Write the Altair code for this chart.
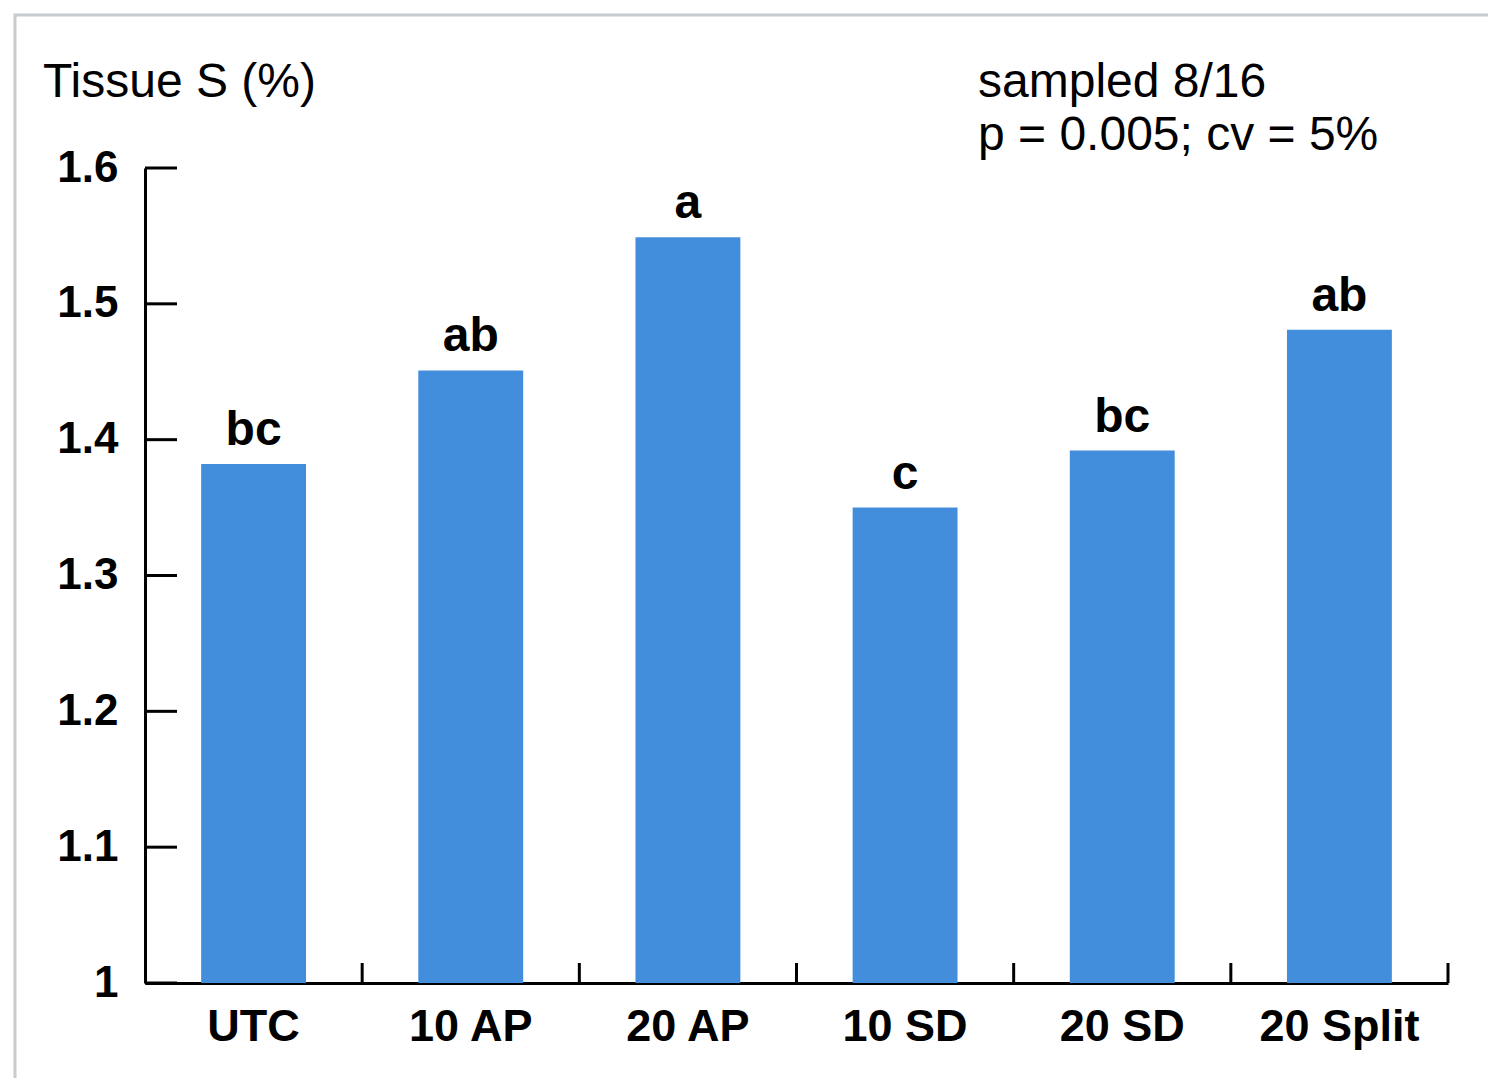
import altair as alt
import pandas as pd

categories = ["UTC", "10 AP", "20 AP", "10 SD", "20 SD", "20 Split"]
values = [1.382, 1.451, 1.549, 1.350, 1.392, 1.481]
letters = ["bc", "ab", "a", "c", "bc", "ab"]
y_ticks = [1.0, 1.1, 1.2, 1.3, 1.4, 1.5, 1.6]
y_label = "Tissue S (%)"
note_line1 = "sampled 8/16"
note_line2 = "p = 0.005; cv = 5%"

W, H = 1303, 815
STEP = W / len(categories)
BLUE = "#428EDD"
COND = "Liberation Sans Narrow, Arial Narrow, Liberation Sans, Arial, sans-serif"
PLAIN = "Liberation Sans, Arial, Helvetica, sans-serif"

df = pd.DataFrame({"cat": categories, "val": values, "letter": letters})
ticks_df = pd.DataFrame({"t": y_ticks})

xscale = alt.Scale(domain=categories, paddingInner=0.517, paddingOuter=0.2585)
yscale = alt.Scale(domain=[1.0, 1.6], zero=False, nice=False)

bars = alt.Chart(df).mark_bar(color=BLUE).encode(
    x=alt.X("cat:N", scale=xscale, sort=categories,
            axis=alt.Axis(title=None, labelAngle=0, ticks=False, domainWidth=3,
                          domainColor="black", labelFont=COND, labelFontWeight="bold",
                          labelFontSize=45, labelColor="black", labelPadding=21,
                          labelLimit=0)),
    y=alt.Y("val:Q", scale=yscale,
            axis=alt.Axis(title=None, values=y_ticks, format="~g", ticks=False, grid=False,
                          domainWidth=3, domainColor="black", labelFont=COND,
                          labelFontWeight="bold", labelFontSize=44, labelColor="black",
                          labelPadding=27)),
    y2=alt.datum(1.0),
)

labels = alt.Chart(df).mark_text(
    font=COND, fontWeight="bold", fontSize=48, color="black", baseline="alphabetic", dy=-19
).encode(
    x=alt.X("cat:N", scale=xscale, sort=categories, bandPosition=0.5),
    y=alt.Y("val:Q", scale=yscale),
    text="letter:N",
)

x_ticks = alt.Chart(df).mark_rule(color="black", strokeWidth=3, xOffset=STEP / 2).encode(
    x=alt.X("cat:N", scale=xscale, sort=categories, bandPosition=0.5),
    y=alt.value(H),
    y2=alt.value(H - 20),
)

y_tick_marks = alt.Chart(ticks_df).mark_rule(color="black", strokeWidth=3).encode(
    y=alt.Y("t:Q", scale=yscale),
    x=alt.value(0),
    x2=alt.value(32),
)

def note(text, x, y):
    return alt.Chart(pd.DataFrame({"t": [text]})).mark_text(
        font=PLAIN, fontSize=48, color="black", align="left", baseline="alphabetic"
    ).encode(x=alt.value(x), y=alt.value(y), text="t:N")

ylab = note(y_label, -102, -71)
note1 = note(note_line1, 833, -71)
note2 = note(note_line2, 833, -18)

frame = alt.Chart(pd.DataFrame({"a": [0]})).mark_rect(
    fill=None, stroke="#c8cbd0", strokeWidth=3
).encode(
    x=alt.value(-130), x2=alt.value(W + 300),
    y=alt.value(-153), y2=alt.value(H + 300),
)

chart = alt.layer(frame, bars, x_ticks, y_tick_marks, labels, ylab, note1, note2).properties(
    width=W, height=H,
    autosize=alt.AutoSizeParams(type="none"),
    padding={"left": 137, "top": 160, "right": 40, "bottom": 95},
).configure(background="white", view=alt.ViewConfig(stroke=None))

chart.save("out.html", embed_options={"renderer": "svg", "actions": False})
